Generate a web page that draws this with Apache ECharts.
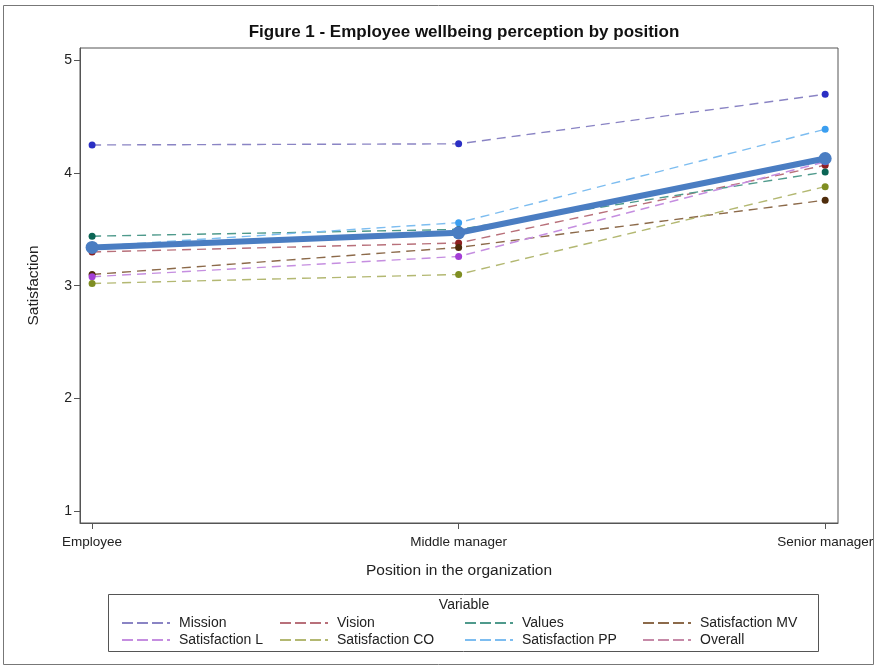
<!DOCTYPE html>
<html>
<head>
<meta charset="utf-8">
<script src="https://cdn.jsdelivr.net/npm/echarts@6/dist/echarts.min.js"></script>
<style>html,body{margin:0;padding:0;background:#fff}#c{width:878px;height:667px}</style>
</head>
<body>
<div id="c"></div>
<script>
var categories = ['Employee', 'Middle manager', 'Senior manager'];
var yTicks = [1, 2, 3, 4, 5];
var mission = [4.25, 4.26, 4.70];
var vision = [3.30, 3.38, 4.07];
var valuesV = [3.44, 3.50, 4.01];
var satMV = [3.10, 3.34, 3.76];
var satL = [3.08, 3.26, 4.10];
var satCO = [3.02, 3.10, 3.88];
var satPP = [3.35, 3.56, 4.39];
var overall = [3.34, 3.47, 4.13];

var seriesDefs = [
  {name: 'Mission', data: mission, line: '#8a84c4', mark: '#2b2fc4'},
  {name: 'Vision', data: vision, line: '#b8707a', mark: '#8e2020'},
  {name: 'Values', data: valuesV, line: '#4f9a8c', mark: '#0b6555'},
  {name: 'Satisfaction MV', data: satMV, line: '#8c6a4a', mark: '#4f2c0c'},
  {name: 'Satisfaction L', data: satL, line: '#c58ee0', mark: '#a43fd6'},
  {name: 'Satisfaction CO', data: satCO, line: '#b3b872', mark: '#7f8e22'},
  {name: 'Satisfaction PP', data: satPP, line: '#7dbdf0', mark: '#3a9ef0'},
  {name: 'Overall', data: overall, line: '#4a7dc2', mark: '#4a7dc2', legendColor: '#c68aa8'}
];

function toPts(arr) { return arr.map(function (v, i) { return [i, v]; }); }

var series = seriesDefs.map(function (d) {
  var isOverall = d.name === 'Overall';
  return {
    name: d.name,
    type: 'line',
    data: toPts(d.data),
    symbol: 'circle',
    symbolSize: isOverall ? 13 : 7,
    z: isOverall ? 10 : 2,
    lineStyle: isOverall ? {color: d.line, width: 6, type: 'solid'} : {color: d.line, width: 1.4, type: [9, 6]},
    itemStyle: {color: d.mark},
    emphasis: {disabled: true},
    animation: false
  };
});

var dashIcon = 'path://M0,0h11v2h-11zM15,0h11v2h-11zM30,0h11v2h-11zM45,0h3v2h-3z';
var legendPos = [
  ['Mission', 122, 616], ['Vision', 280, 616], ['Values', 465, 616], ['Satisfaction MV', 643, 616],
  ['Satisfaction L', 122, 633], ['Satisfaction CO', 280, 633], ['Satisfaction PP', 465, 633], ['Overall', 643, 633]
];
var legends = legendPos.map(function (p) {
  var def = seriesDefs.filter(function (d) { return d.name === p[0]; })[0];
  return {
    left: p[1], top: p[2], padding: 0,
    icon: dashIcon, itemWidth: 48, itemHeight: 2, itemGap: 0,
    selectedMode: false,
    data: [{name: p[0], itemStyle: {color: def.legendColor || def.line}}],
    textStyle: {fontFamily: 'Arial, Liberation Sans', fontSize: 14, color: '#222', padding: [0, 0, 0, 4]}
  };
});

var chart = echarts.init(document.getElementById('c'));
chart.setOption({
  backgroundColor: '#fff',
  animation: false,
  title: {
    text: 'Figure 1 - Employee wellbeing perception by position',
    left: 459, top: 19, textAlign: 'center',
    textStyle: {fontFamily: 'Arial, Liberation Sans', fontSize: 17, fontWeight: 'bold', color: '#111'}
  },
  legend: legends,
  grid: {left: 80, right: 40, top: 48, bottom: 144, show: true, borderColor: '#555', borderWidth: 1},
  xAxis: {
    type: 'value', min: -0.033, max: 2.035,
    name: 'Position in the organization', nameLocation: 'middle', nameGap: 40,
    nameTextStyle: {fontFamily: 'Arial, Liberation Sans', fontSize: 15.5, color: '#222'},
    axisLine: {show: true, onZero: false, lineStyle: {color: '#555'}},
    axisTick: {show: true, customValues: [0, 1, 2], length: 6, lineStyle: {color: '#555'}},
    axisLabel: {customValues: [0, 1, 2], margin: 12, fontFamily: 'Arial, Liberation Sans', fontSize: 13.5, color: '#222',
      formatter: function (v) { return categories[Math.round(v)]; }},
    splitLine: {show: false}
  },
  yAxis: {
    type: 'value', min: 0.893, max: 5.111,
    name: 'Satisfaction', nameLocation: 'middle', nameGap: 38,
    nameTextStyle: {fontFamily: 'Arial, Liberation Sans', fontSize: 15.5, color: '#222'},
    axisLine: {show: true, onZero: false, lineStyle: {color: '#555'}},
    axisTick: {show: true, customValues: yTicks, length: 6, lineStyle: {color: '#555'}},
    axisLabel: {customValues: yTicks, margin: 8, fontFamily: 'Arial, Liberation Sans', fontSize: 14, color: '#222'},
    splitLine: {show: false}
  },
  graphic: [
    {type: 'rect', shape: {x: 3.5, y: 5.5, width: 870, height: 659}, style: {fill: 'none', stroke: '#777', lineWidth: 1}, silent: true, z: -1},
    {type: 'rect', shape: {x: 108.5, y: 594.5, width: 710, height: 57}, style: {fill: 'none', stroke: '#555', lineWidth: 1}, silent: true},
    {type: 'text', x: 464, y: 605, style: {text: 'Variable', fontFamily: 'Arial, Liberation Sans', fontSize: 14, fill: '#222', align: 'center', verticalAlign: 'middle'}, silent: true}
  ],
  series: series
});
</script>
</body>
</html>
